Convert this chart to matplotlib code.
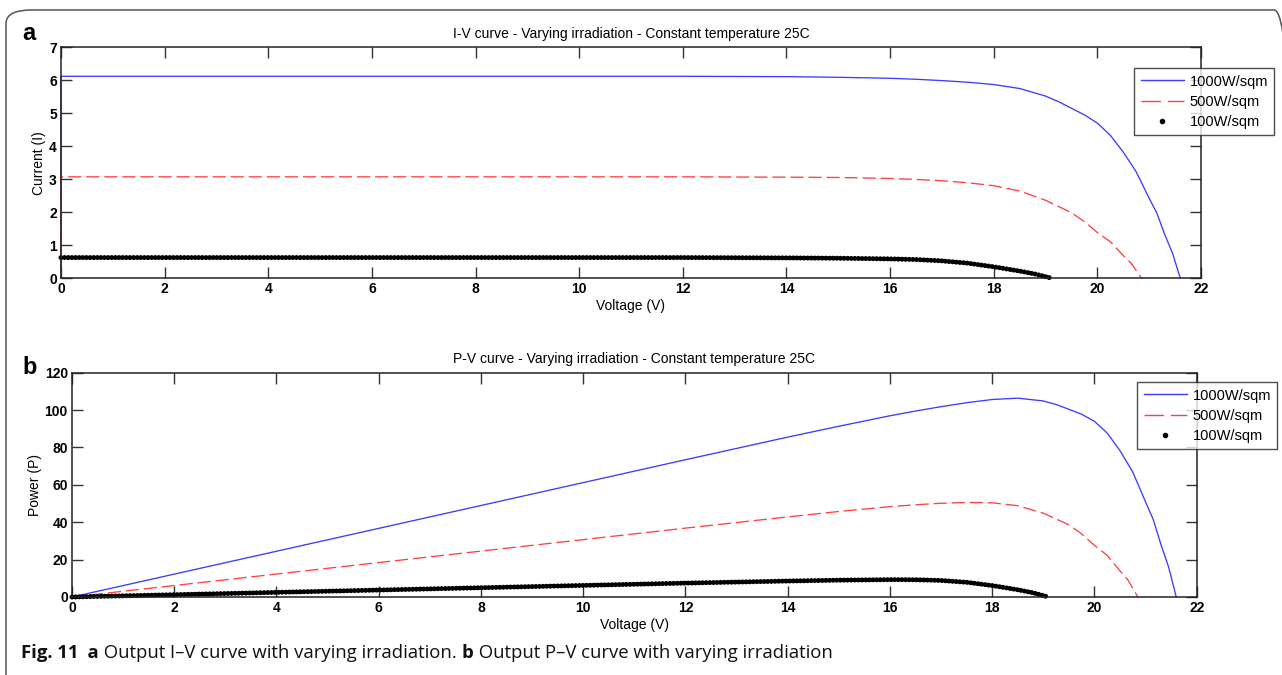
"""I-V and P-V curves of a PV module at three irradiation levels (25 C)."""

import matplotlib
matplotlib.use("Agg")
import matplotlib.pyplot as plt
import numpy as np
from matplotlib.lines import Line2D
from matplotlib.patches import FancyBboxPatch

# --- curve data (voltage in V, current in A) ---
v_1000 = [0, 0, 2, 4, 6, 8, 10, 12, 14, 15, 16, 16.5, 17, 17.5, 18, 18.5,
          19, 19.25, 19.5, 19.75, 20, 20.25, 20.5, 20.75, 21, 21.15, 21.3,
          21.45, 21.6]
i_1000 = [0, 6.12, 6.12, 6.12, 6.12, 6.12, 6.12, 6.12, 6.11, 6.09, 6.06, 6.03,
          5.99, 5.94, 5.87, 5.75, 5.52, 5.35, 5.15, 4.95, 4.70, 4.33, 3.82,
          3.22, 2.42, 1.96, 1.32, 0.75, 0]

v_500 = [0, 0, 2, 4, 6, 8, 10, 12, 14, 15, 16, 16.5, 17, 17.5, 18, 18.5,
         19, 19.25, 19.5, 19.75, 20, 20.25, 20.5, 20.65, 20.85]
i_500 = [0, 3.07, 3.07, 3.07, 3.07, 3.07, 3.07, 3.07, 3.06, 3.05, 3.02, 2.99,
         2.95, 2.89, 2.80, 2.64, 2.36, 2.17, 1.98, 1.71, 1.38, 1.10, 0.68,
         0.45, 0]

v_100 = [0, 2, 4, 6, 8, 10, 12, 14, 15, 16, 16.5, 17, 17.5, 18, 18.5, 18.8, 19.1]
i_100 = [0.62, 0.62, 0.62, 0.62, 0.62, 0.62, 0.62, 0.61, 0.60, 0.58, 0.56,
         0.52, 0.45, 0.34, 0.21, 0.12, 0]

labels = ["1000W/sqm", "500W/sqm", "100W/sqm"]

BLUE = "#3c3cff"
RED = "#ff4040"
FW = 1282
FH = 675

plt.rcParams["font.family"] = ["Liberation Sans", "DejaVu Sans"]
plt.rcParams["lines.scale_dashes"] = False


def fx(px):
    return px / FW


def fy(py):
    return 1 - py / FH


def style_axes(ax, ylim, yticks):
    ax.set_xlim(0, 22)
    ax.set_xticks(range(0, 23, 2))
    ax.set_ylim(*ylim)
    ax.set_yticks(yticks)
    ax.tick_params(direction="in", length=8, width=1.0, color="#333333",
                   top=True, right=True, labelsize=10, pad=3)
    for lab in ax.get_xticklabels() + ax.get_yticklabels():
        lab.set_fontweight("bold")
    for sp in ax.spines.values():
        sp.set_linewidth(1.1)
        sp.set_color("#222222")


def draw_curves(ax, y1000, y500, y100):
    ax.plot(v_1000, y1000, color=BLUE, lw=0.95, clip_on=False)
    ax.plot(v_500, y500, color=RED, lw=0.95, dashes=(9.5, 3.5), clip_on=False)
    # chain of round dots for the low-irradiation curve
    ax.plot(v_100, y100, color="black", lw=3.6, linestyle=(0, (0.01, 2.6)),
            dash_capstyle="round", clip_on=False)


def add_legend(ax, left_px, top_px):
    handles = [
        Line2D([], [], color=BLUE, lw=1.0),
        Line2D([], [], color=RED, lw=1.0, dashes=(14, 5)),
        Line2D([], [], color="black", marker=".", ls="none", markersize=6),
    ]
    leg = ax.legend(handles, labels, loc="upper left",
                    bbox_to_anchor=(fx(left_px), fy(top_px)),
                    bbox_transform=ax.figure.transFigure,
                    fontsize=10.5, frameon=True, fancybox=False,
                    handlelength=3.0, handletextpad=0.35, labelspacing=0.42,
                    borderpad=0.45, borderaxespad=0)
    leg.get_frame().set_edgecolor("#222222")
    leg.get_frame().set_linewidth(1.0)


fig = plt.figure(figsize=(FW / 100, FH / 100), dpi=100)

# rounded frame around the whole figure
frame = FancyBboxPatch((fx(6), fy(690)), fx(1300) - fx(6), fy(10) - fy(690),
                       boxstyle="round,pad=0,rounding_size=0.02",
                       transform=fig.transFigure, fill=False,
                       edgecolor="#555555", linewidth=1.1)
fig.patches.append(frame)

# --- (a) I-V curve ---
ax_iv = fig.add_axes([fx(61), fy(278), fx(1201) - fx(61), fy(47.3) - fy(278)])
draw_curves(ax_iv, i_1000, i_500, i_100)
style_axes(ax_iv, (0, 7), range(0, 8))
ax_iv.set_title("I-V curve - Varying irradiation - Constant temperature 25C",
                fontsize=10, pad=7)
ax_iv.set_xlabel("Voltage (V)", fontsize=10, labelpad=2)
ax_iv.set_ylabel("Current (I)", fontsize=10, labelpad=2)
add_legend(ax_iv, 1134, 68)

# --- (b) P-V curve, power = V * I ---
p_1000 = np.array(v_1000) * np.array(i_1000)
p_500 = np.array(v_500) * np.array(i_500)
p_100 = np.array(v_100) * np.array(i_100)

ax_pv = fig.add_axes([fx(72), fy(597), fx(1196.7) - fx(72), fy(372.7) - fy(597)])
draw_curves(ax_pv, p_1000, p_500, p_100)
style_axes(ax_pv, (0, 120), range(0, 121, 20))
ax_pv.set_title("P-V curve - Varying irradiation - Constant temperature 25C",
                fontsize=10, pad=7)
ax_pv.set_xlabel("Voltage (V)", fontsize=10, labelpad=2)
ax_pv.set_ylabel("Power (P)", fontsize=10, labelpad=2)
add_legend(ax_pv, 1137, 382)

# panel letters
fig.text(fx(22), fy(33), "a", fontsize=17, fontweight="bold",
         va="center", ha="left")
fig.text(fx(22), fy(367), "b", fontsize=17, fontweight="bold",
         va="center", ha="left")

# caption, built from bold and regular pieces placed one after another
caption = [("Fig. 11", "bold"), ("  a", "bold"),
           (" Output I\u2013V curve with varying irradiation. ", "normal"),
           ("b", "bold"),
           (" Output P\u2013V curve with varying irradiation", "normal")]
renderer = fig.canvas.get_renderer()
x_px = 21
for txt, weight in caption:
    t = fig.text(fx(x_px), fy(658), txt, fontsize=13.3, fontweight=weight,
                 family=["Open Sans", "DejaVu Sans"], va="baseline",
                 ha="left", color="#111111")
    x_px += t.get_window_extent(renderer).width

fig.savefig("out.png", dpi=100)
plt.close(fig)
